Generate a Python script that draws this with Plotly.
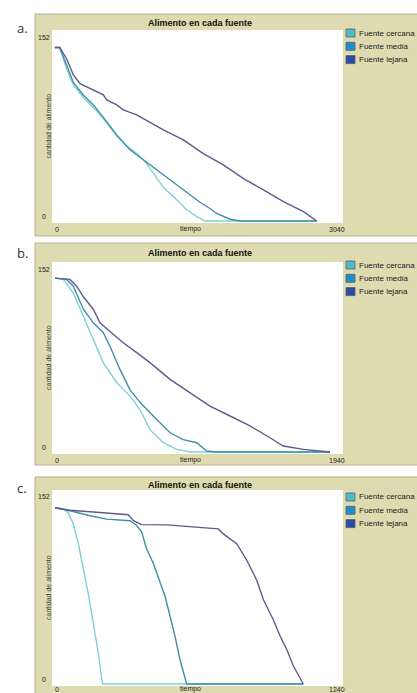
import plotly.graph_objects as go

W, H = 417, 693

# ---------------- data ----------------
series_names = ["Fuente cercana", "Fuente media", "Fuente lejana"]
panel_letters = ["a.", "b.", "c."]
x_max_labels = ["3040", "1940", "1240"]
x_max_values = [3040, 1940, 1240]
y_tick_labels = ["0", "152"]

# panel a
a_cercana_t = [30, 80, 153, 223, 327, 432, 536, 676, 780, 885, 989, 1094, 1163, 1303, 1407, 1512, 1600, 2766]
a_cercana_v = [139, 139, 122, 109, 99, 91, 82, 68, 60, 54, 46, 35, 27, 17, 9, 3.5, 0, 0]
a_media_t = [30, 80, 153, 223, 327, 432, 536, 676, 815, 989, 1094, 1163, 1372, 1546, 1651, 1720, 1860, 1960, 2766]
a_media_v = [139, 139, 125, 111, 101, 93, 83, 69, 57, 47, 41, 37, 25, 15, 10, 6, 1.4, 0, 0]
a_lejana_t = [30, 80, 153, 223, 293, 397, 536, 571, 676, 745, 885, 954, 1024, 1163, 1372, 1581, 1790, 2000, 2209, 2418, 2627, 2766]
a_lejana_v = [139, 139, 130, 117, 110, 106, 101, 97, 93, 89, 85, 82, 79, 73, 65, 54, 45, 34, 25, 15.5, 7.5, 0]

# panel b
b_cercana_t = [20, 75, 142, 209, 275, 342, 431, 520, 587, 653, 742, 831, 920, 1853]
b_cercana_v = [140, 139, 128, 109, 90.6, 72, 56, 45, 34, 18, 7.5, 2.1, 0, 0]
b_media_t = [20, 98, 142, 209, 275, 342, 387, 453, 520, 587, 675, 787, 875, 965, 1031, 1098, 1853]
b_media_v = [140, 139, 133.5, 115, 104, 96, 85, 66.5, 50, 40, 29, 15.5, 10, 7.5, 0.8, 0, 0]
b_lejana_t = [20, 120, 165, 209, 275, 320, 387, 475, 565, 653, 787, 920, 1053, 1187, 1320, 1453, 1542, 1676, 1853]
b_lejana_v = [140, 139, 133.5, 125, 115, 104, 97, 88, 80, 72, 58.5, 48, 37, 29, 21, 11.5, 4.8, 2.1, 0]

# panel c
c_cercana_t = [13, 48, 70, 91, 112, 133, 154, 176, 197, 212, 216, 1071]
c_cercana_v = [139, 138, 135, 126, 111, 92, 71.6, 48, 25, 4, 0, 0]
c_media_t = [13, 77, 162, 233, 332, 361, 382, 403, 432, 461, 482, 503, 524, 545, 567, 574, 1071]
c_media_v = [139, 136.6, 132.7, 130, 128.8, 125, 119.8, 106.7, 95, 79.4, 69, 53.4, 37.8, 19.5, 4, 0, 0]
c_lejana_t = [13, 77, 190, 325, 347, 382, 489, 588, 709, 730, 787, 830, 872, 901, 943, 972, 1000, 1028, 1057, 1071]
c_lejana_v = [139, 137, 135.4, 133.5, 128.8, 125.7, 125.5, 124.1, 122.3, 118.4, 110.6, 97.6, 82, 66.4, 50.7, 37.8, 27.3, 14.4, 4, 0]

panels = [
    [(a_cercana_t, a_cercana_v), (a_media_t, a_media_v), (a_lejana_t, a_lejana_v)],
    [(b_cercana_t, b_cercana_v), (b_media_t, b_media_v), (b_lejana_t, b_lejana_v)],
    [(c_cercana_t, c_cercana_v), (c_media_t, c_media_v), (c_lejana_t, c_lejana_v)],
]

# ---------------- style / layout ----------------
line_colors = ["#7fd0d9", "#3f8fa6", "#5b5c8c"]
legend_colors = ["#4fbccb", "#2190c6", "#2d4aa6"]
frame_color = "#dedbb0"
frame_edge = "#b3b092"
text_color = "#222222"
FONT = "Liberation Sans"

plot_x0, plot_x1 = 52, 343
frames = [(14, 236), (243, 465), (477, 695)]
plots = [(30, 223), (262, 454), (490, 686)]
title_y = [23, 253, 485]
letter_y = [28, 253, 488]
legend_y0 = [33, 265, 497]
xlab_y = [229, 460, 689]


def px(x):
    return x / W


def py(y):
    return 1 - y / H


def label(text, x, y, size, color=text_color, family=FONT, xanchor="center", angle=0):
    return dict(text=text, x=px(x), y=py(y), xref="paper", yref="paper",
                showarrow=False, xanchor=xanchor, yanchor="middle", textangle=angle,
                font=dict(family=family, size=size, color=color))


fig = go.Figure()
shapes = []
annotations = []

for i in range(3):
    xa = "x" if i == 0 else f"x{i+1}"
    ya = "y" if i == 0 else f"y{i+1}"
    for k, (t, v) in enumerate(panels[i]):
        fig.add_trace(go.Scatter(
            x=t, y=v, mode="lines", name=series_names[k],
            line=dict(color=line_colors[k], width=1.4),
            xaxis=xa, yaxis=ya, showlegend=False, hoverinfo="skip"))

    pt, pb = plots[i]
    axkey = "" if i == 0 else str(i + 1)
    fig.layout["xaxis" + axkey] = dict(
        domain=[px(plot_x0), px(plot_x1)], range=[0, x_max_values[i]],
        showgrid=False, zeroline=False, showticklabels=False, showline=False,
        anchor=ya, fixedrange=True)
    fig.layout["yaxis" + axkey] = dict(
        domain=[py(pb), py(pt)], range=[-1.6, 153],
        showgrid=False, zeroline=False, showticklabels=False, showline=False,
        anchor=xa, fixedrange=True)

    ft, fb = frames[i]
    shapes.append(dict(type="rect", xref="paper", yref="paper",
                       x0=px(35), x1=px(W + 5), y0=py(fb), y1=py(ft),
                       fillcolor=frame_color, line=dict(color=frame_edge, width=1),
                       layer="below"))
    shapes.append(dict(type="rect", xref="paper", yref="paper",
                       x0=px(plot_x0), x1=px(plot_x1), y0=py(pb), y1=py(pt),
                       fillcolor="white", line=dict(width=0), layer="below"))

    annotations.append(label(panel_letters[i], 22, letter_y[i], 13, "#333333", "Open Sans"))
    annotations.append(label("<b>Alimento en cada fuente</b>", 200, title_y[i], 9, "#111111"))
    annotations.append(label("cantidad de alimento", 48, (pt + pb) / 2, 7, "#444444", angle=-90))
    annotations.append(label(y_tick_labels[1], 44, pt + 7, 7))
    annotations.append(label(y_tick_labels[0], 44, pb - 7, 7))
    annotations.append(label("0", 57, xlab_y[i], 7))
    annotations.append(label("tiempo", 190, xlab_y[i], 7))
    annotations.append(label(x_max_labels[i], 337, xlab_y[i], 7))

    for k in range(3):
        cy = legend_y0[i] + k * 13.3
        shapes.append(dict(type="rect", xref="paper", yref="paper",
                           x0=px(346), x1=px(355), y0=py(cy + 4), y1=py(cy - 4),
                           fillcolor=legend_colors[k], line=dict(color="#556070", width=0.8),
                           layer="above"))
        annotations.append(label(series_names[k], 356.5, cy, 8, xanchor="left"))

fig.update_layout(
    width=W, height=H, margin=dict(l=0, r=0, t=0, b=0),
    paper_bgcolor="white", plot_bgcolor="white",
    shapes=shapes, annotations=annotations, showlegend=False)

fig.write_html(
    "out.html", config={"displayModeBar": False},
    post_script="document.body.style.margin='0';document.body.style.overflow='hidden';")
